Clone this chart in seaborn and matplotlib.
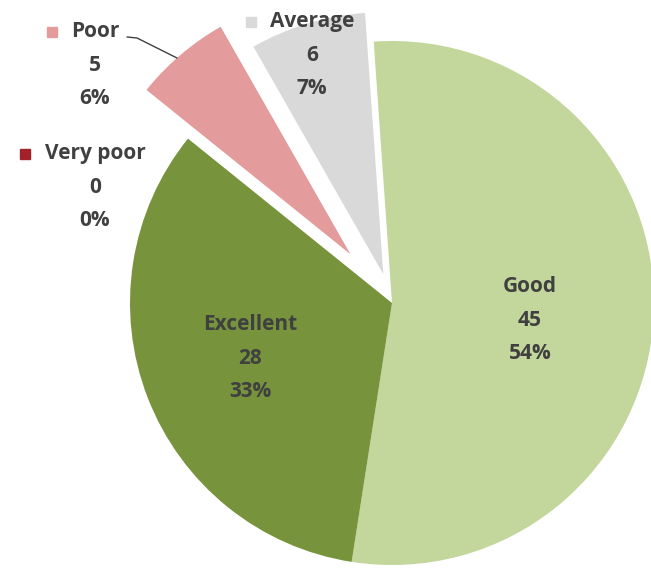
import matplotlib.pyplot as plt
import seaborn as sns

# data, in the order the slices are drawn (clockwise from the top)
categories = ['Good', 'Excellent', 'Very poor', 'Poor', 'Average']
counts = [45, 28, 0, 5, 6]
percents = ['54%', '33%', '0%', '6%', '7%']
colors = ['#c3d69b', '#77933c', '#a3222a', '#e39b9b', '#d9d9d9']

sns.set_theme(style='white')
plt.rcParams['font.family'] = ['Open Sans', 'DejaVu Sans']

W, H = 651, 569
fig = plt.figure(figsize=(W / 100, H / 100), dpi=100)
ax = fig.add_axes([0, 0, 1, 1])

def px(x, y):
    # picture pixels -> data coords (y up)
    return x, H - y

cx, cy = px(392, 303)
R = 262
wedges, _ = ax.pie(counts, colors=colors, startangle=94, counterclock=False,
                   explode=[0, 0, 0, 64, 30], radius=R, center=(cx, cy),
                   wedgeprops=dict(linewidth=0))
ax.set_xlim(0, W)
ax.set_ylim(0, H)
ax.set_aspect('equal')
ax.axis('off')

txt = dict(ha='center', va='center', fontsize=15, fontweight='bold',
           color='#404040', linespacing=1.8)

# label block centres (pixels) and legend key square x for outside labels
label_pos = {0: (530, 320, None), 1: (250, 358, None),
             2: (95, 187, 25), 3: (95, 65, 52), 4: (312, 55, 251)}
for i, (x, y, sqx) in label_pos.items():
    ax.text(*px(x, y), f'{categories[i]}\n{counts[i]}\n{percents[i]}', **txt)
    if sqx is not None:
        ax.plot(*px(sqx, y - 33), marker='s', markersize=7.5, color=colors[i],
                linestyle='none')

# leader line for Poor
lx, ly = zip(px(127, 37), px(137, 38), px(177, 58))
ax.plot(lx, ly, color='#404040', linewidth=1)

fig.savefig('out.png', dpi=100)
